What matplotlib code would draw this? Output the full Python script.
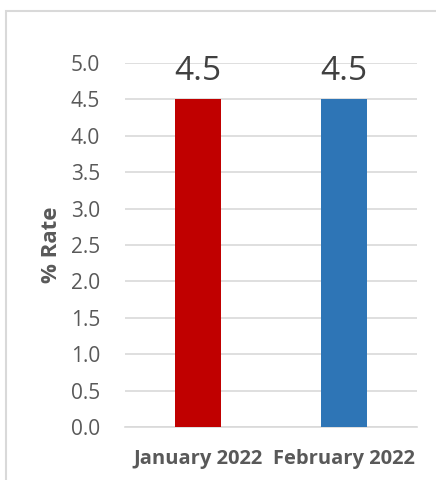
import matplotlib
matplotlib.use("Agg")
import matplotlib.pyplot as plt
from matplotlib.patches import Rectangle

categories = ["January 2022", "February 2022"]
values = [4.5, 4.5]
colors = ["#C00000", "#2E75B6"]
yticks = [0.0, 0.5, 1.0, 1.5, 2.0, 2.5, 3.0, 3.5, 4.0, 4.5, 5.0]

W, H = 436, 480
fig = plt.figure(figsize=(W / 100, H / 100), dpi=100)
plt.rcParams['font.family'] = ['Open Sans', 'DejaVu Sans']

# outer chart border
fig.patches.append(Rectangle((6 / W, 0 - 0.01), 1.0, 1 - 11 / H + 0.01,
                             transform=fig.transFigure, fill=False,
                             edgecolor="#D9D9D9", linewidth=1.5))

left, right = 125 / W, 417 / W
bottom, top = 1 - 427 / H, 1 - 63 / H
ax = fig.add_axes([left, bottom, right - left, top - bottom])

x = list(range(len(categories)))
ax.bar(x, values, width=0.315, color=colors, zorder=3)
for xi, v in zip(x, values):
    ax.text(xi, v + 0.16, f"{v:.1f}", ha="center", va="bottom",
            fontsize=24, color="#404040")

ax.set_xlim(-0.5, 1.5)
ax.set_ylim(0, 5.0)
ax.set_yticks(yticks)
ax.set_yticklabels([f"{t:.1f}" for t in yticks], fontsize=15, color="#595959")
ax.set_xticks(x)
ax.set_xticklabels(categories, fontsize=14.5, fontweight="bold", color="#595959")
ax.grid(axis="y", color="#D9D9D9", linewidth=1.2, zorder=0)
for s in ["top", "right", "left"]:
    ax.spines[s].set_visible(False)
ax.spines["bottom"].set_color("#D9D9D9")
ax.spines["bottom"].set_linewidth(1.2)
ax.tick_params(axis="both", length=0)
ax.tick_params(axis="y", pad=18)
ax.tick_params(axis="x", pad=16)
ax.set_ylabel("% Rate", fontsize=16, fontweight="bold", color="#595959")
ax.yaxis.set_label_coords(-0.215, 0.5)

fig.savefig("out.png", dpi=100)
